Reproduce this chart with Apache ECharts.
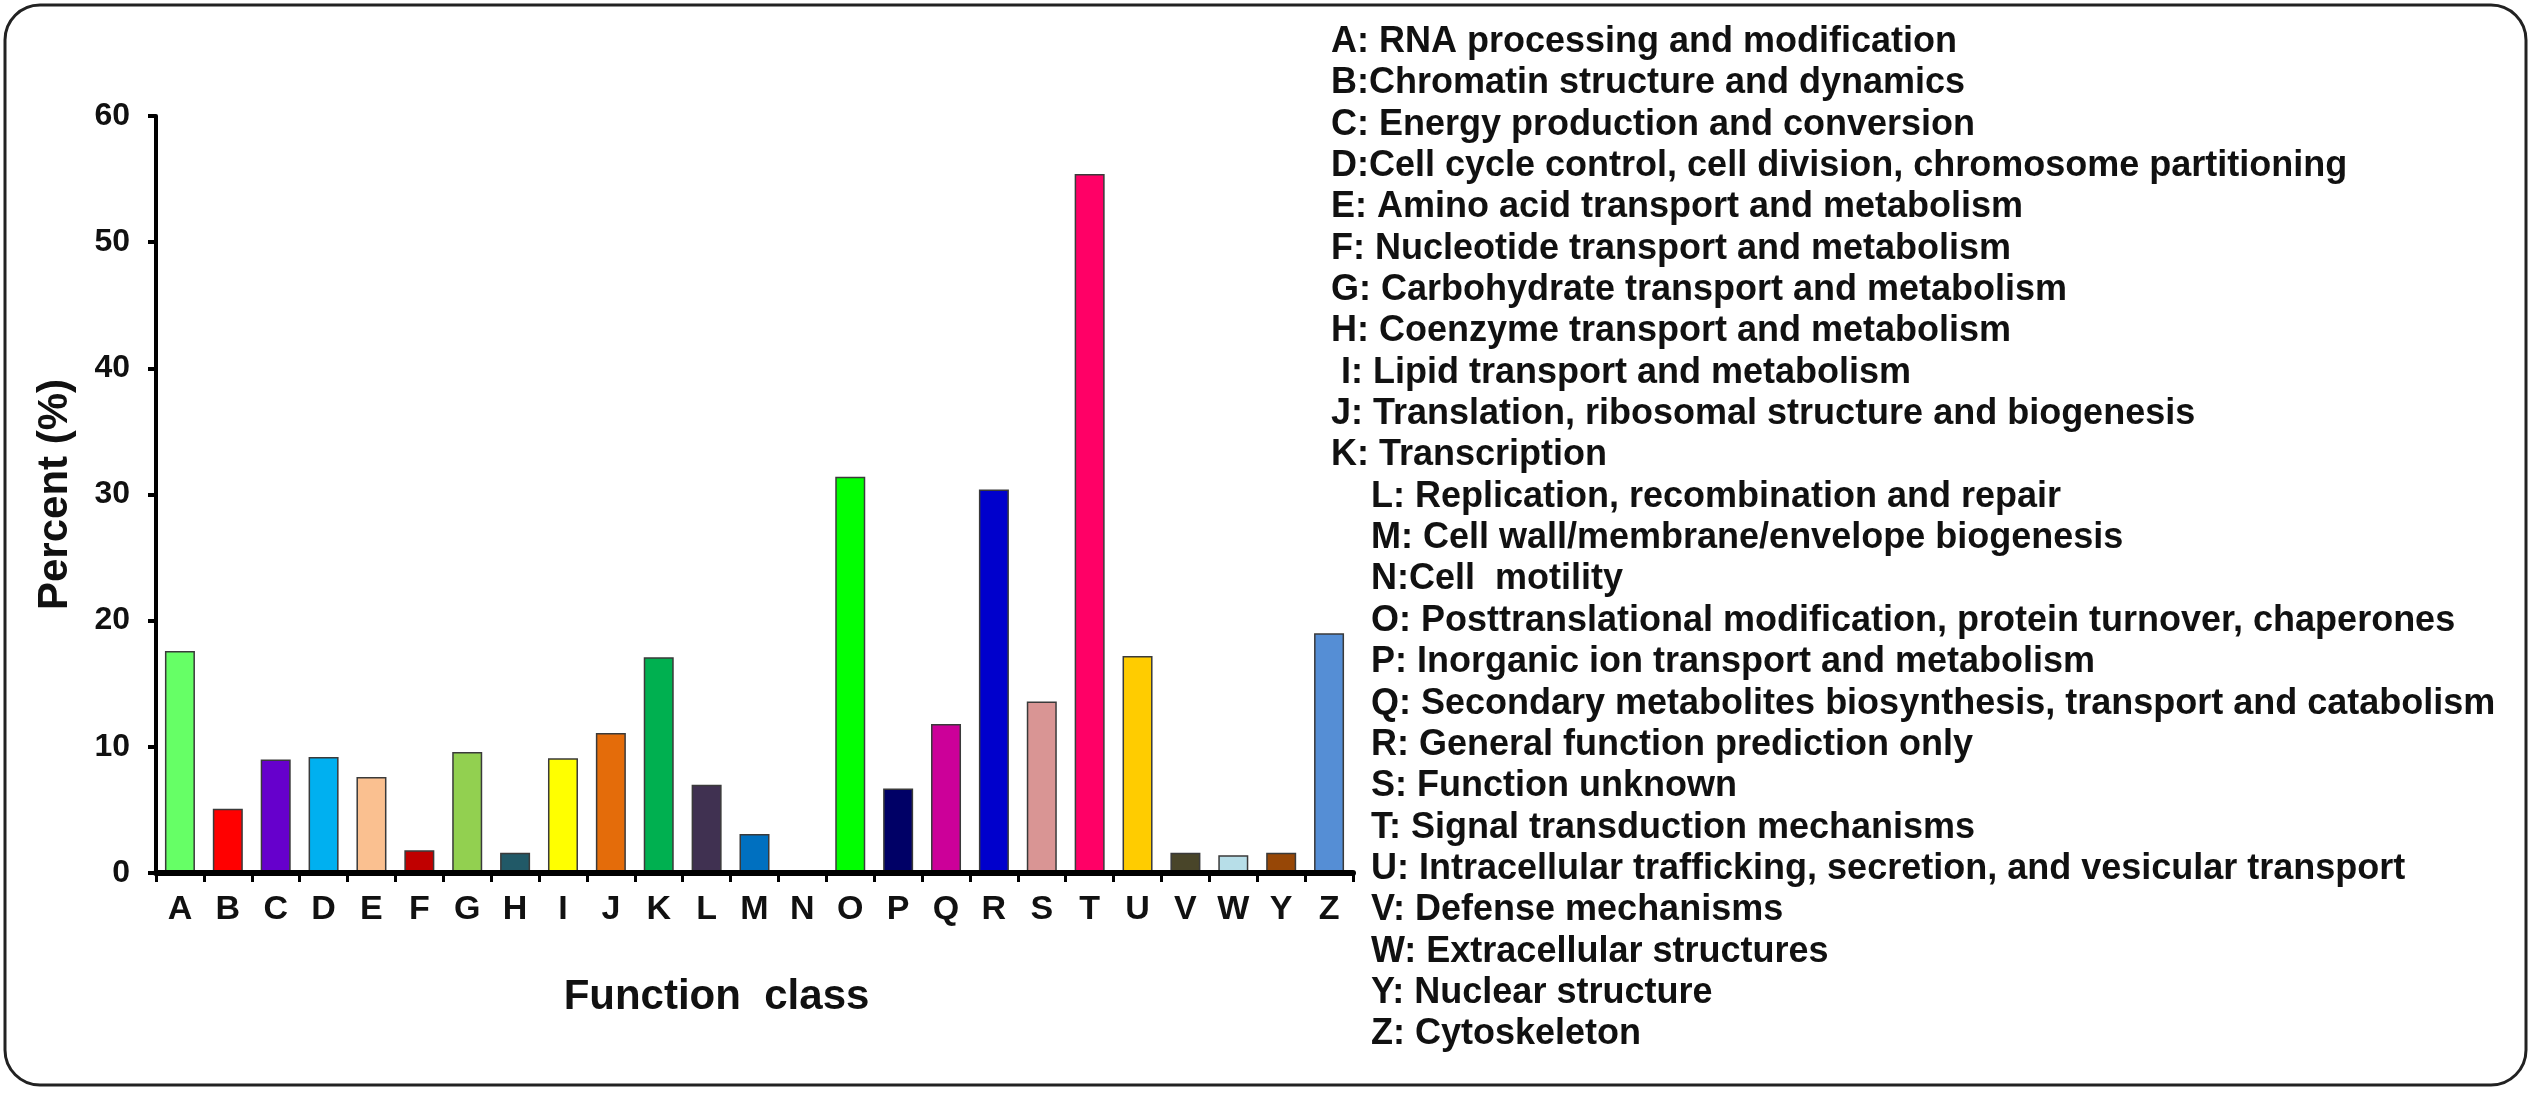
<!DOCTYPE html>
<html>
<head>
<meta charset="utf-8">
<script src="https://cdn.jsdelivr.net/npm/echarts@6/dist/echarts.min.js"></script>
<style>
html,body{margin:0;padding:0;background:#fff;}
#chart{width:2533px;height:1093px;}
</style>
</head>
<body>
<div id="chart"></div>
<script>
const categories = ['A','B','C','D','E','F','G','H','I','J','K','L','M','N','O','P','Q','R','S','T','U','V','W','Y','Z'];
const values = [17.6, 5.1, 9.0, 9.2, 7.6, 1.8, 9.6, 1.6, 9.1, 11.1, 17.1, 7.0, 3.1, 0, 31.4, 6.7, 11.8, 30.4, 13.6, 55.4, 17.2, 1.6, 1.4, 1.6, 19.0];
const barColors = ['#66FF66','#FF0000','#6600CC','#00B0F0','#FAC090','#C00000','#92D050','#215967','#FFFF00','#E46C0A','#00B050','#403151','#0070C0','#888888','#00FF00','#000066','#CC0099','#0000CC','#D99594','#FF0066','#FFCC00','#494529','#B7DEE8','#974706','#558ED5'];
const yTicks = [0, 10, 20, 30, 40, 50, 60];
const legendLabels = [
  'A: RNA processing and modification',
  'B:Chromatin structure and dynamics',
  'C: Energy production and conversion',
  'D:Cell cycle control, cell division, chromosome partitioning',
  'E: Amino acid transport and metabolism',
  'F: Nucleotide transport and metabolism',
  'G: Carbohydrate transport and metabolism',
  'H: Coenzyme transport and metabolism',
  ' I: Lipid transport and metabolism',
  'J: Translation, ribosomal structure and biogenesis',
  'K: Transcription',
  'L: Replication, recombination and repair',
  'M: Cell wall/membrane/envelope biogenesis',
  'N:Cell  motility',
  'O: Posttranslational modification, protein turnover, chaperones',
  'P: Inorganic ion transport and metabolism',
  'Q: Secondary metabolites biosynthesis, transport and catabolism',
  'R: General function prediction only',
  'S: Function unknown',
  'T: Signal transduction mechanisms',
  'U: Intracellular trafficking, secretion, and vesicular transport',
  'V: Defense mechanisms',
  'W: Extracellular structures',
  'Y: Nuclear structure',
  'Z: Cytoskeleton'
];
const xTitle = 'Function  class';
const yTitle = 'Percent (%)';

const FONT = '"Liberation Sans", Arial, Helvetica, sans-serif';
const chart = echarts.init(document.getElementById('chart'));

const legendGraphics = legendLabels.map((t, i) => ({
  type: 'text',
  x: i < 11 ? 1331 : 1371,
  y: 42 + i * 41.35,
  style: {
    text: t,
    fill: '#111',
    font: 'bold 36px ' + FONT,
    textVerticalAlign: 'middle',
    textAlign: 'left'
  }
}));

const option = {
  backgroundColor: '#fff',
  animation: false,
  grid: { left: 156, right: 1180, top: 116, bottom: 220 },
  xAxis: {
    type: 'category',
    data: categories,
    name: xTitle,
    nameLocation: 'middle',
    nameGap: 103,
    nameTextStyle: { fontFamily: FONT, fontWeight: 'bold', fontSize: 42, color: '#111', padding: [0, 76, 0, 0] },
    axisLine: { lineStyle: { color: '#000', width: 6 } },
    axisTick: { show: true, length: 9, lineStyle: { color: '#000', width: 3 } },
    axisLabel: { fontFamily: FONT, fontWeight: 'bold', fontSize: 34, color: '#111', margin: 20, interval: 0 },
    splitLine: { show: false },
    z: 10
  },
  yAxis: {
    type: 'value',
    min: 0,
    max: 60,
    interval: 10,
    name: yTitle,
    nameLocation: 'middle',
    nameRotate: 90,
    nameGap: 80,
    nameTextStyle: { fontFamily: FONT, fontWeight: 'bold', fontSize: 42, color: '#111' },
    axisLine: { show: true, lineStyle: { color: '#000', width: 4 } },
    axisTick: { show: true, length: 8, lineStyle: { color: '#000', width: 4 } },
    axisLabel: {
      fontFamily: FONT, fontWeight: 'bold', fontSize: 32, color: '#111', margin: 26,
      formatter: v => yTicks.includes(v) ? String(v) : ''
    },
    splitLine: { show: false }
  },
  series: [{
    type: 'bar',
    barWidth: 30,
    data: values.map((v, i) => ({
      value: v,
      itemStyle: { color: barColors[i], borderWidth: v > 0 ? 1.5 : 0, opacity: v > 0 ? 1 : 0 }
    })),
    itemStyle: { borderColor: '#3a3a3a', borderWidth: 1.5 }
  }],
  graphic: [
    {
      type: 'rect',
      shape: { x: 5, y: 5, width: 2521, height: 1080, r: 35 },
      style: { fill: 'none', stroke: '#222', lineWidth: 3 },
      z: 100
    },
    ...legendGraphics
  ]
};
chart.setOption(option);
</script>
</body>
</html>
